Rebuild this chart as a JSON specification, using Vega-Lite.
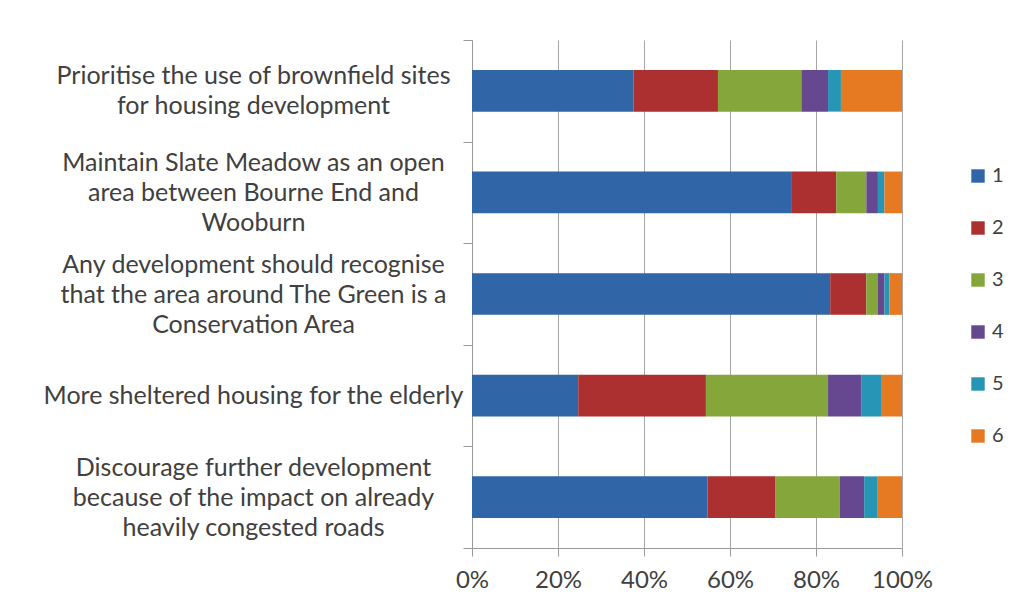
{
  "$schema": "https://vega.github.io/schema/vega-lite/v6.json",
  "width": 430,
  "height": 508,
  "autosize": "none",
  "padding": {"left": 472, "top": 40, "right": 119, "bottom": 63},
  "background": "white",
  "data": {
    "values": [
      {"statement": "Prioritise the use of brownfield sites|for housing development", "resp": 1, "pct": 37.6},
      {"statement": "Prioritise the use of brownfield sites|for housing development", "resp": 2, "pct": 19.6},
      {"statement": "Prioritise the use of brownfield sites|for housing development", "resp": 3, "pct": 19.4},
      {"statement": "Prioritise the use of brownfield sites|for housing development", "resp": 4, "pct": 6.2},
      {"statement": "Prioritise the use of brownfield sites|for housing development", "resp": 5, "pct": 3.0},
      {"statement": "Prioritise the use of brownfield sites|for housing development", "resp": 6, "pct": 14.2},
      {"statement": "Maintain Slate Meadow as an open|area between Bourne End and|Wooburn", "resp": 1, "pct": 74.4},
      {"statement": "Maintain Slate Meadow as an open|area between Bourne End and|Wooburn", "resp": 2, "pct": 10.3},
      {"statement": "Maintain Slate Meadow as an open|area between Bourne End and|Wooburn", "resp": 3, "pct": 7.0},
      {"statement": "Maintain Slate Meadow as an open|area between Bourne End and|Wooburn", "resp": 4, "pct": 2.7},
      {"statement": "Maintain Slate Meadow as an open|area between Bourne End and|Wooburn", "resp": 5, "pct": 1.5},
      {"statement": "Maintain Slate Meadow as an open|area between Bourne End and|Wooburn", "resp": 6, "pct": 4.1},
      {"statement": "Any development should recognise|that the area around The Green is a|Conservation Area", "resp": 1, "pct": 83.3},
      {"statement": "Any development should recognise|that the area around The Green is a|Conservation Area", "resp": 2, "pct": 8.4},
      {"statement": "Any development should recognise|that the area around The Green is a|Conservation Area", "resp": 3, "pct": 2.6},
      {"statement": "Any development should recognise|that the area around The Green is a|Conservation Area", "resp": 4, "pct": 1.6},
      {"statement": "Any development should recognise|that the area around The Green is a|Conservation Area", "resp": 5, "pct": 1.2},
      {"statement": "Any development should recognise|that the area around The Green is a|Conservation Area", "resp": 6, "pct": 2.9},
      {"statement": "More sheltered housing for the elderly", "resp": 1, "pct": 24.7},
      {"statement": "More sheltered housing for the elderly", "resp": 2, "pct": 29.7},
      {"statement": "More sheltered housing for the elderly", "resp": 3, "pct": 28.4},
      {"statement": "More sheltered housing for the elderly", "resp": 4, "pct": 7.7},
      {"statement": "More sheltered housing for the elderly", "resp": 5, "pct": 4.8},
      {"statement": "More sheltered housing for the elderly", "resp": 6, "pct": 4.7},
      {"statement": "Discourage further development|because of the impact on already|heavily congested roads", "resp": 1, "pct": 54.8},
      {"statement": "Discourage further development|because of the impact on already|heavily congested roads", "resp": 2, "pct": 15.8},
      {"statement": "Discourage further development|because of the impact on already|heavily congested roads", "resp": 3, "pct": 14.9},
      {"statement": "Discourage further development|because of the impact on already|heavily congested roads", "resp": 4, "pct": 5.7},
      {"statement": "Discourage further development|because of the impact on already|heavily congested roads", "resp": 5, "pct": 3.0},
      {"statement": "Discourage further development|because of the impact on already|heavily congested roads", "resp": 6, "pct": 5.8}
    ]
  },
  "mark": {"type": "bar", "height": {"band": 0.41}},
  "encoding": {
    "y": {
      "field": "statement",
      "type": "nominal",
      "sort": null,
      "scale": {"paddingInner": 0, "paddingOuter": 0},
      "axis": {
        "title": null,
        "labelExpr": "split(datum.label, '|')",
        "labelAlign": "center",
        "labelBaseline": "middle",
        "labelPadding": 210,
        "labelOffset": {
          "condition": [
            {"test": "length(split(datum.value, '|')) == 3", "value": -30},
            {"test": "length(split(datum.value, '|')) == 2", "value": -15}
          ],
          "value": 0
        },
        "labelFont": "Lato",
        "labelFontSize": 25,
        "labelColor": "#404040",
        "labelLineHeight": 30,
        "labelLimit": 0,
        "tickBand": "extent",
        "tickSize": 9,
        "tickColor": "#999999",
        "domainColor": "#999999",
        "grid": false,
        "encode": {
          "labels": {
            "update": {
              "dx": {"signal": "indexof(datum.value, 'More sheltered') >= 0 ? -17 : indexof(datum.value, 'Discourage') >= 0 ? 11 : indexof(datum.value, 'Prioritise') >= 0 ? -4 : 1"}
            }
          }
        }
      }
    },
    "x": {
      "field": "pct",
      "type": "quantitative",
      "stack": "normalize",
      "scale": {"domain": [0, 1], "nice": false},
      "axis": {
        "title": null,
        "format": ".0%",
        "values": [0, 0.2, 0.4, 0.6, 0.8, 1],
        "labelFlush": false,
        "labelFont": "Lato",
        "labelFontSize": 24,
        "labelColor": "#404040",
        "labelPadding": 12,
        "tickSize": 8,
        "tickColor": "#999999",
        "domainColor": "#999999",
        "grid": true,
        "gridColor": "#a6a6a6",
        "gridOpacity": 1
      }
    },
    "color": {
      "field": "resp",
      "type": "nominal",
      "scale": {
        "domain": [1, 2, 3, 4, 5, 6],
        "range": ["#3065a8", "#ac3030", "#84a63b", "#664890", "#2795b5", "#e67a22"]
      },
      "legend": {
        "title": null,
        "orient": "none",
        "legendX": 496,
        "legendY": 126,
        "symbolType": "square",
        "symbolSize": 180,
        "symbolStrokeWidth": 0,
        "symbolOpacity": 1,
        "labelFont": "Lato",
        "labelFontSize": 20,
        "labelColor": "#404040",
        "labelOffset": 4,
        "rowPadding": 32
      }
    },
    "order": {"field": "resp", "type": "quantitative"}
  },
  "config": {
    "view": {"stroke": null}
  }
}
